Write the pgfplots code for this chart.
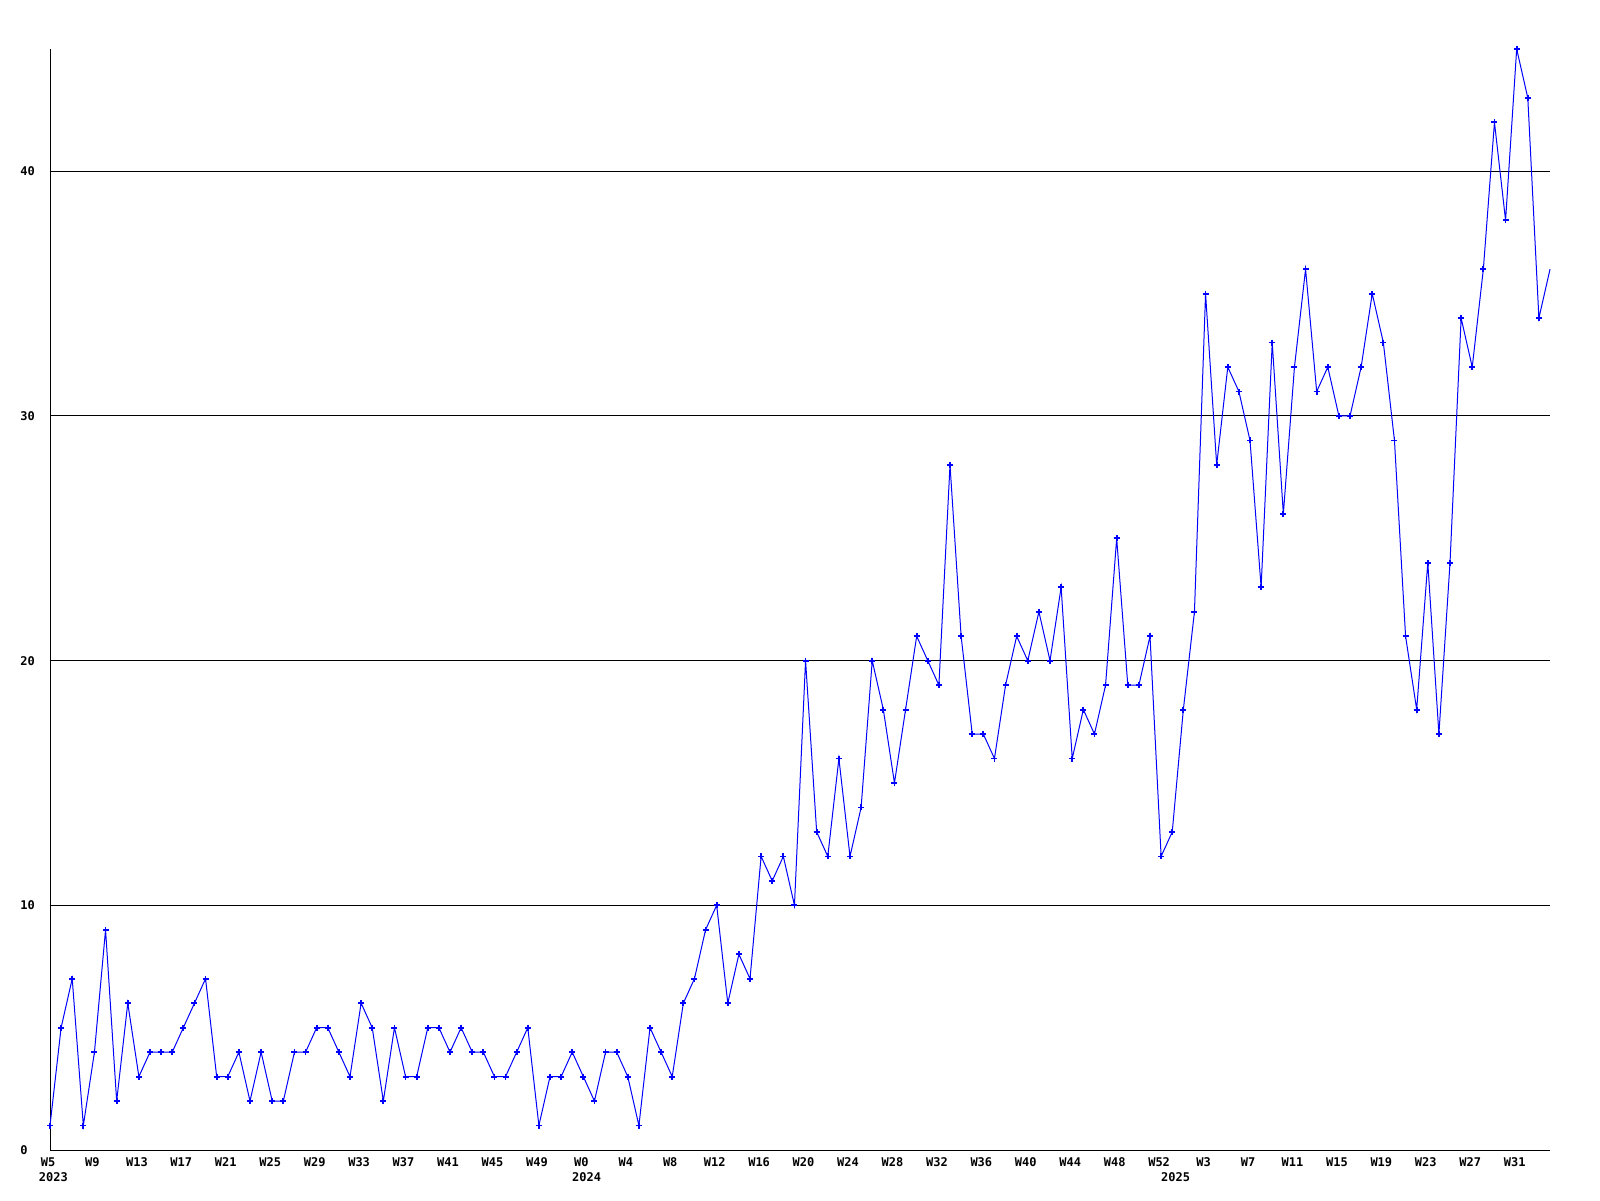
\documentclass[border=0pt]{standalone}
\usepackage{fontspec}
\setmonofont{DejaVu Sans Mono}
\usepackage{pgfplots}
\pgfplotsset{compat=1.18}
\definecolor{pblue}{RGB}{0,0,255}
\newcommand{\pixfont}{\ttfamily\bfseries\fontsize{6}{7.5}\selectfont}
\begin{document}
\begin{tikzpicture}
\useasboundingbox (0,0) rectangle (800pt,600pt);
\begin{axis}[
  at={(25pt,25pt)}, anchor=origin,
  scale only axis, width=750pt, height=550.5pt,
  xmin=0, xmax=135, ymin=0, ymax=45,
  axis x line*=bottom, axis y line*=left,
  axis line style={-, black, line width=0.5pt},
  major tick length=0pt,
  ytick={0,10,20,30,40},
  ymajorgrids, grid style={black, line width=0.5pt},
  xtick={0,4,...,132},
  xticklabels={W5,W9,W13,W17,W21,W25,W29,W33,W37,W41,W45,W49,W0,W4,W8,W12,W16,W20,W24,W28,W32,W36,W40,W44,W48,W52,W3,W7,W11,W15,W19,W23,W27,W31},
  /pgf/number format/assume math mode=true,
  tick label style={font=\pixfont},
  yticklabel style={anchor=west, inner sep=0pt, xshift=-15pt},
  xticklabel style={anchor=north, inner sep=0pt, yshift=-3.5pt, xshift=-1pt},
  clip=false,
]
\addplot[pblue, line width=0.5pt, mark=+, mark size=1.5pt, mark indices={1,...,135}, mark options={line width=0.9pt}] coordinates {
(0,1)(1,5)(2,7)(3,1)(4,4)(5,9)(6,2)(7,6)(8,3)(9,4)(10,4)(11,4)(12,5)(13,6)(14,7)(15,3)(16,3)(17,4)(18,2)(19,4)
(20,2)(21,2)(22,4)(23,4)(24,5)(25,5)(26,4)(27,3)(28,6)(29,5)(30,2)(31,5)(32,3)(33,3)(34,5)(35,5)(36,4)(37,5)(38,4)(39,4)
(40,3)(41,3)(42,4)(43,5)(44,1)(45,3)(46,3)(47,4)(48,3)(49,2)(50,4)(51,4)(52,3)(53,1)(54,5)(55,4)(56,3)(57,6)(58,7)(59,9)
(60,10)(61,6)(62,8)(63,7)(64,12)(65,11)(66,12)(67,10)(68,20)(69,13)(70,12)(71,16)(72,12)(73,14)(74,20)(75,18)(76,15)(77,18)(78,21)(79,20)
(80,19)(81,28)(82,21)(83,17)(84,17)(85,16)(86,19)(87,21)(88,20)(89,22)(90,20)(91,23)(92,16)(93,18)(94,17)(95,19)(96,25)(97,19)(98,19)(99,21)
(100,12)(101,13)(102,18)(103,22)(104,35)(105,28)(106,32)(107,31)(108,29)(109,23)(110,33)(111,26)(112,32)(113,36)(114,31)(115,32)(116,30)(117,30)(118,32)(119,35)
(120,33)(121,29)(122,21)(123,18)(124,24)(125,17)(126,24)(127,34)(128,32)(129,36)(130,42)(131,38)(132,45)(133,43)(134,34)(135,36)
};
\node[font=\pixfont, anchor=north, inner sep=0pt] at ([yshift=-11pt]axis cs:0.3,0) {2023};
\node[font=\pixfont, anchor=north, inner sep=0pt] at ([yshift=-11pt]axis cs:48.3,0) {2024};
\node[font=\pixfont, anchor=north, inner sep=0pt] at ([yshift=-11pt]axis cs:101.3,0) {2025};
\end{axis}
\end{tikzpicture}
\end{document}
